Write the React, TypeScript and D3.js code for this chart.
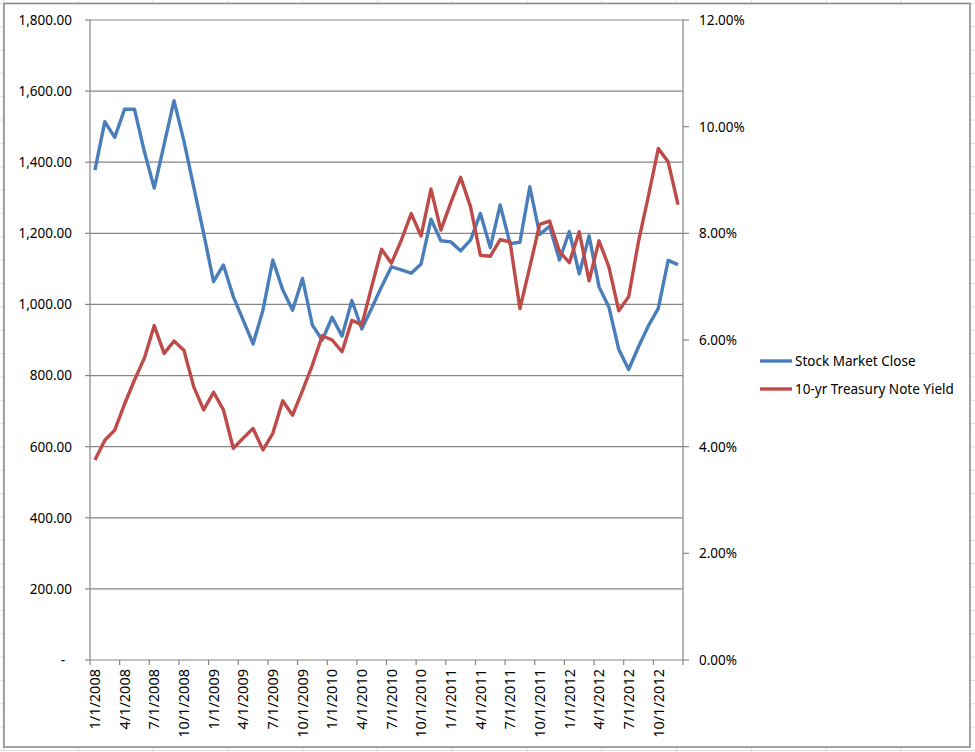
import * as d3 from "d3";
import React from "react";

// monthly categories, Jan 2008 .. Dec 2012
const months: Date[] = d3.timeMonths(new Date(2008, 0, 1), new Date(2013, 0, 1));

const stockClose = [
  1378, 1514, 1470, 1549, 1549, 1430, 1327, 1450, 1573, 1460,
  1330, 1200, 1064, 1111, 1022, 956, 889, 984, 1125, 1041,
  984, 1073, 942, 900, 964, 911, 1011, 931, 989, 1050,
  1106, 1097, 1088, 1114, 1240, 1179, 1176, 1151, 1181, 1256,
  1160, 1280, 1171, 1175, 1331, 1197, 1220, 1125, 1205, 1086,
  1193, 1050, 993, 874, 817, 881, 940, 989, 1124, 1112,
];

const treasuryYield = [
  3.75, 4.12, 4.31, 4.8, 5.25, 5.66, 6.27, 5.75, 5.98, 5.81,
  5.12, 4.69, 5.02, 4.69, 3.97, 4.16, 4.34, 3.94, 4.25, 4.86,
  4.59, 5.05, 5.53, 6.08, 6.0, 5.78, 6.37, 6.28, 7.0, 7.7,
  7.44, 7.87, 8.37, 7.95, 8.83, 8.06, 8.57, 9.05, 8.5, 7.59,
  7.57, 7.88, 7.84, 6.59, 7.37, 8.17, 8.23, 7.66, 7.45, 8.03,
  7.11, 7.86, 7.37, 6.55, 6.81, 7.85, 8.7, 9.59, 9.34, 8.54,
];

const leftTicks = [0, 200, 400, 600, 800, 1000, 1200, 1400, 1600, 1800];
const rightTicks = [0, 2, 4, 6, 8, 10, 12];

const seriesNames = ["Stock Market Close", "10-yr Treasury Note Yield"];
const seriesColors = ["#4A7EBB", "#BE4B48"];

const W = 975;
const H = 752;
const margin = { left: 90, right: 683, top: 20, bottom: 660 };
const FONT = "'Noto Sans', 'Liberation Sans', sans-serif";

export default function App() {
  const x = d3
    .scaleBand<number>()
    .domain(months.map((_, i) => i))
    .range([margin.left, margin.right])
    .padding(0);
  const cx = (i: number) => (x(i) as number) + x.bandwidth() / 2;

  const yL = d3.scaleLinear().domain([0, 1800]).range([margin.bottom, margin.top]);
  const yR = d3.scaleLinear().domain([0, 12]).range([margin.bottom, margin.top]);

  const stockLine = d3
    .line<number>()
    .x((_, i) => cx(i))
    .y((d) => yL(d));
  const yieldLine = d3
    .line<number>()
    .x((_, i) => cx(i))
    .y((d) => yR(d));

  const fmtL = d3.format(",.2f");
  const dateLabel = (d: Date) => `${d.getMonth() + 1}/1/${d.getFullYear()}`;

  // spreadsheet cells behind the chart object
  const colW = 74.8;
  const rowH = 23.35;
  const cols = d3.range(3.3, W, colW);
  const rows = d3.range(3.3, H, rowH);

  // category tick boundaries every 3 months (plus the right end)
  const tickIdx = months.map((_, i) => i).filter((i) => i % 3 === 0);
  const tickX = [...tickIdx.map((i) => x(i) as number), margin.right];

  return (
    <div style={{ position: "fixed", left: 0, top: 0 }}>
      <svg width={W} height={H} style={{ display: "block", fontFamily: FONT }}>
        <rect width={W} height={H} fill="#fff" />
        {cols.map((c) => (
          <line key={"c" + c} x1={c} x2={c} y1={0} y2={H} stroke="#dadcdd" />
        ))}
        {rows.map((r) => (
          <line key={"r" + r} x1={0} x2={W} y1={r} y2={r} stroke="#dadcdd" />
        ))}

        {/* chart area */}
        <rect x={4} y={3.5} width={966} height={743.5} fill="#fff" stroke="#8c8c8c" strokeWidth={1.6} />

        {/* gridlines */}
        {leftTicks
          .filter((t) => t > 0)
          .map((t) => (
            <line key={"g" + t} x1={margin.left} x2={margin.right} y1={yL(t)} y2={yL(t)} stroke="#868686" strokeWidth={1.2} />
          ))}

        {/* left axis */}
        <line x1={margin.left} x2={margin.left} y1={margin.top} y2={margin.bottom} stroke="#868686" strokeWidth={1.2} />
        {leftTicks.map((t) => (
          <g key={"l" + t}>
            <line x1={margin.left - 5} x2={margin.left} y1={yL(t)} y2={yL(t)} stroke="#868686" strokeWidth={1.2} />
            <text x={t === 0 ? 65 : 72} y={yL(t)} dy="0.36em" textAnchor="end" fontSize={13.5} fill="#000">
              {t === 0 ? "-" : fmtL(t)}
            </text>
          </g>
        ))}

        {/* right axis */}
        <line x1={margin.right} x2={margin.right} y1={margin.top} y2={margin.bottom} stroke="#868686" strokeWidth={1.2} />
        {rightTicks.map((t) => (
          <g key={"r" + t}>
            <line x1={margin.right} x2={margin.right + 6} y1={yR(t)} y2={yR(t)} stroke="#868686" strokeWidth={1.2} />
            <text x={699} y={yR(t)} dy="0.36em" fontSize={13.5} fill="#000">
              {t.toFixed(2) + "%"}
            </text>
          </g>
        ))}

        {/* category axis */}
        <line x1={margin.left} x2={margin.right} y1={margin.bottom} y2={margin.bottom} stroke="#868686" strokeWidth={1.2} />
        {tickX.map((tx, k) => (
          <line key={"t" + k} x1={tx} x2={tx} y1={margin.bottom} y2={margin.bottom + 5} stroke="#868686" strokeWidth={1.2} />
        ))}
        {tickIdx.map((i) => (
          <text
            key={"d" + i}
            transform={`translate(${cx(i)},669) rotate(-90)`}
            textAnchor="end"
            dy="0.36em"
            fontSize={14.5}
            fill="#000"
          >
            {dateLabel(months[i])}
          </text>
        ))}

        {/* series */}
        <path d={stockLine(stockClose) ?? ""} fill="none" stroke={seriesColors[0]} strokeWidth={3.4} strokeLinejoin="round" />
        <path d={yieldLine(treasuryYield) ?? ""} fill="none" stroke={seriesColors[1]} strokeWidth={3.4} strokeLinejoin="round" />

        {/* legend */}
        {seriesNames.map((name, k) => (
          <g key={name} transform={`translate(760,${361 + k * 28})`}>
            <line x1={0} x2={32} y1={0} y2={0} stroke={seriesColors[k]} strokeWidth={3.4} />
            <text x={35} y={0} dy="0.36em" fontSize={13.5} fill="#000">
              {name}
            </text>
          </g>
        ))}
      </svg>
    </div>
  );
}
